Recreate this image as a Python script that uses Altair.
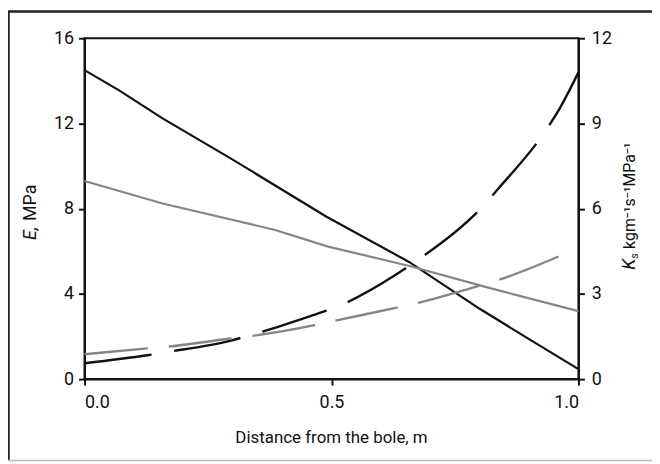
import altair as alt
import pandas as pd

# ---- data ----
# Elastic modulus E (MPa), left axis
e_black_x = [0.0, 0.07, 0.158, 0.3, 0.49, 0.657, 0.8, 0.895, 1.0]
e_black_y = [14.5, 13.55, 12.24, 10.3, 7.62, 5.5, 3.3, 1.95, 0.47]
e_gray_x = [0.0, 0.158, 0.386, 0.493, 0.66, 0.808, 1.0]
e_gray_y = [9.3, 8.24, 7.0, 6.22, 5.3, 4.35, 3.19]

# Hydraulic conductivity Ks, right axis (dashed)
k_black_x = [0.0, 0.127, 0.168, 0.292, 0.335, 0.463, 0.506, 0.63, 0.67, 0.8, 0.838, 0.939, 0.963, 1.0]
k_black_y = [0.56, 0.84, 0.955, 1.34, 1.54, 2.25, 2.51, 3.67, 4.14, 5.97, 6.71, 8.89, 9.56, 10.8]
k_gray_x = [0.0, 0.127, 0.168, 0.292, 0.335, 0.463, 0.503, 0.63, 0.67, 0.79, 0.84, 0.967]
k_gray_y = [0.875, 1.08, 1.14, 1.42, 1.51, 1.89, 2.04, 2.51, 2.66, 3.24, 3.50, 4.37]

x_ticks = [0.0, 0.5, 1.0]
left_ticks = [0, 4, 8, 12, 16]
right_ticks = [0, 3, 6, 9, 12]

FONT = "Roboto, 'Liberation Sans', sans-serif"
BLACK = "#111111"
GRAY = "#858585"

df_eb = pd.DataFrame({"x": e_black_x, "E": e_black_y})
df_eg = pd.DataFrame({"x": e_gray_x, "E": e_gray_y})
df_kb = pd.DataFrame({"x": k_black_x, "K": k_black_y})
df_kg = pd.DataFrame({"x": k_gray_x, "K": k_gray_y})
one = pd.DataFrame({"a": [0]})

X = alt.X("x:Q", scale=alt.Scale(domain=[0, 1], nice=False),
          axis=alt.Axis(values=x_ticks, format=".1f", title=None, labelPadding=9))
YL = alt.Y("E:Q", scale=alt.Scale(domain=[0, 16], nice=False),
           axis=alt.Axis(orient="left", values=left_ticks, title=None, labelPadding=5))
YR = alt.Y("K:Q", scale=alt.Scale(domain=[0, 12], nice=False),
           axis=alt.Axis(orient="right", values=right_ticks, title=None, labelPadding=7))

e_black = alt.Chart(df_eb).mark_line(color=BLACK, strokeWidth=2.2).encode(x=X, y=YL)
e_gray = alt.Chart(df_eg).mark_line(color=GRAY, strokeWidth=2.2).encode(x=X, y=YL)
k_black = alt.Chart(df_kb).mark_line(color=BLACK, strokeWidth=2.4, strokeDash=[68, 23],
                                     interpolate="monotone").encode(x=X, y=YR)
k_gray = alt.Chart(df_kg).mark_line(color=GRAY, strokeWidth=2.4, strokeDash=[64, 21],
                                    interpolate="monotone").encode(x=X, y=YR)

# outer frame of the figure
frame_left = alt.Chart(one).mark_rule(color="#222222", strokeWidth=2.5).encode(
    x=alt.value(-76.5), y=alt.value(-27), y2=alt.value(425))
frame_top = alt.Chart(one).mark_rule(color="#222222", strokeWidth=2.5).encode(
    x=alt.value(-77.5), x2=alt.value(575), y=alt.value(-27))
frame_bottom = alt.Chart(one).mark_rule(color="#bbbbbb", strokeWidth=1.5).encode(
    x=alt.value(-77.5), x2=alt.value(575), y=alt.value(425))

# axis titles as text (italic symbols)
t_e = alt.Chart(one).mark_text(text="E,", font=FONT, fontSize=18, fontStyle="italic",
                               angle=270, align="left", baseline="middle", color=BLACK).encode(
    x=alt.value(-54), y=alt.value(203))
t_mpa = alt.Chart(one).mark_text(text="MPa", font=FONT, fontSize=18,
                                 angle=270, align="left", baseline="middle", color=BLACK).encode(
    x=alt.value(-54), y=alt.value(184))
t_k = alt.Chart(one).mark_text(text="K", font=FONT, fontSize=18, fontStyle="italic",
                               angle=270, align="left", baseline="middle", color=BLACK).encode(
    x=alt.value(549), y=alt.value(233))
t_ks = alt.Chart(one).mark_text(text="s", font=FONT, fontSize=11, fontStyle="italic",
                                angle=270, align="left", baseline="middle", color=BLACK).encode(
    x=alt.value(554), y=alt.value(222))
t_kunit = alt.Chart(one).mark_text(text="kgm⁻¹s⁻¹MPa⁻¹", font=FONT, fontSize=16,
                                   angle=270, align="left", baseline="middle", color=BLACK).encode(
    x=alt.value(549), y=alt.value(212))
t_x = alt.Chart(one).mark_text(text="Distance from the bole, m", font=FONT, fontSize=17,
                               align="center", baseline="middle", color=BLACK).encode(
    x=alt.value(248.5), y=alt.value(402))

left = alt.layer(e_black, e_gray, frame_left, frame_top, frame_bottom,
                 t_e, t_mpa, t_k, t_ks, t_kunit, t_x)
right = alt.layer(k_black, k_gray)

chart = alt.layer(left, right).resolve_scale(y="independent").properties(
    width=497, height=343,
    autosize=alt.AutoSizeParams(type="none"),
    padding={"left": 77, "top": 29, "right": 74, "bottom": 82},
    background="white",
).configure_view(
    stroke=BLACK, strokeWidth=2
).configure_axis(
    grid=False, domainColor=BLACK, domainWidth=2, tickColor=BLACK, tickWidth=2, tickSize=6,
    labelFont=FONT, labelFontSize=18, labelColor=BLACK,
)

chart.save("out.html", embed_options={"renderer": "svg", "actions": False})
